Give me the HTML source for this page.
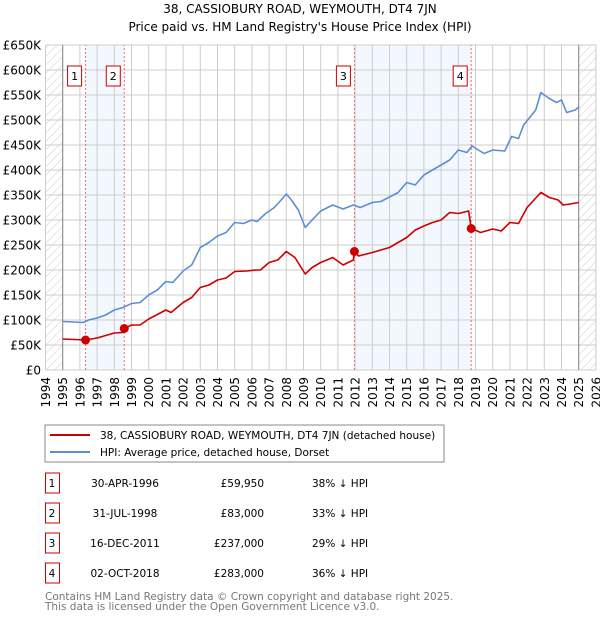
<!DOCTYPE html>
<html><head><meta charset="utf-8"><style>
body{margin:0;background:#fff;width:600px;height:620px;overflow:hidden;font-family:"DejaVu Sans","Liberation Sans",sans-serif;}
svg text{font-family:"DejaVu Sans","Liberation Sans",sans-serif;}
</style></head><body>
<svg id="c" width="600" height="620" xmlns="http://www.w3.org/2000/svg">
<defs><pattern id="hatch" width="6" height="6" patternUnits="userSpaceOnUse" patternTransform="rotate(45)"><line x1="0" y1="0" x2="0" y2="6" stroke="#ccc" stroke-width="1"/></pattern></defs>
<text x="300" y="13" text-anchor="middle" font-size="12" fill="#000">38, CASSIOBURY ROAD, WEYMOUTH, DT4 7JN</text>
<text x="300" y="31" text-anchor="middle" font-size="12" fill="#000">Price paid vs. HM Land Registry's House Price Index (HPI)</text>
<g id="plot"></g>
<rect x="45" y="425" width="399" height="37" fill="#fff" stroke="#888"/>
<line x1="50" y1="435" x2="90" y2="435" stroke="#cc0000" stroke-width="2"/>
<text x="100" y="439" font-size="10.5">38, CASSIOBURY ROAD, WEYMOUTH, DT4 7JN (detached house)</text>
<line x1="50" y1="452" x2="90" y2="452" stroke="#5b8fd4" stroke-width="2"/>
<text x="100" y="456" font-size="10.5">HPI: Average price, detached house, Dorset</text>
<g id="table" font-size="10.5"></g>
<text x="45" y="600" font-size="10.5" fill="#777">Contains HM Land Registry data © Crown copyright and database right 2025.</text>
<text x="45" y="610" font-size="10.5" fill="#777">This data is licensed under the Open Government Licence v3.0.</text>
</svg>
<script>
const hpiYears=[1995,1996.2,1996.5,1997,1997.5,1998,1998.5,1999,1999.5,2000,2000.5,2001,2001.4,2002,2002.5,2003,2003.5,2004,2004.5,2005,2005.5,2006,2006.3,2006.8,2007.3,2007.7,2008,2008.3,2008.7,2009.1,2009.5,2010,2010.7,2011.3,2011.9,2012.3,2013,2013.5,2014.5,2015,2015.5,2016,2016.5,2017,2017.5,2018,2018.5,2018.8,2019.5,2020,2020.7,2021.1,2021.5,2021.8,2022.5,2022.8,2023.2,2023.7,2024,2024.3,2024.8,2025];
const hpiValues=[97,95,100,104,110,120,125,133,135,150,160,177,175,198,210,245,255,268,275,295,293,300,297,313,325,340,352,340,320,285,300,318,330,322,330,325,335,337,355,375,370,390,400,410,420,440,435,448,433,440,438,467,463,490,520,555,545,535,540,515,520,526];
const propYears=[1995,1996.33,1997,1998,1998.5,1998.58,1999,1999.5,2000,2001,2001.3,2002,2002.5,2003,2003.5,2004,2004.5,2005,2005.7,2006.2,2006.5,2007,2007.5,2008,2008.5,2009.1,2009.5,2010,2010.7,2011.3,2011.9,2011.96,2012.2,2013,2014,2014.5,2015,2015.5,2016,2016.5,2017,2017.5,2018,2018.6,2018.75,2019.3,2020,2020.5,2021,2021.5,2022,2022.8,2023.3,2023.8,2024.1,2024.5,2025];
const propValues=[62,60,64,74,75,83,90,90,102,120,115,135,145,165,170,180,184,197,198,200,200,215,220,237,225,192,205,215,225,210,220,237,228,235,245,255,265,280,288,295,300,315,313,318,283,275,282,278,295,293,325,355,345,340,330,332,335];
const saleYears=[1996.33,1998.58,2011.96,2018.75];
const saleValues=[59.95,83,237,283];
const saleLabels=["1","2","3","4"];
const saleDates=["30-APR-1996","31-JUL-1998","16-DEC-2011","02-OCT-2018"];
const salePrices=["£59,950","£83,000","£237,000","£283,000"];
const saleDiffs=["38% ↓ HPI","33% ↓ HPI","29% ↓ HPI","36% ↓ HPI"];
const yTicks=[0,50,100,150,200,250,300,350,400,450,500,550,600,650];
const xTicks=[1994,1995,1996,1997,1998,1999,2000,2001,2002,2003,2004,2005,2006,2007,2008,2009,2010,2011,2012,2013,2014,2015,2016,2017,2018,2019,2020,2021,2022,2023,2024,2025,2026];
const NS="http://www.w3.org/2000/svg";
const X=y=>45.5+(y-1994)*17.2;
const Y=v=>370-v*0.5;
const g=document.getElementById('plot');
function mk(tag,attrs,parent){const e=document.createElementNS(NS,tag);for(const k in attrs)e.setAttribute(k,attrs[k]);(parent||g).appendChild(e);return e;}
// shaded spans
let r=mk('rect',{x:X(1994),y:Y(650),width:X(1995)-X(1994),height:Y(0)-Y(650),fill:'url(#hatch)'});


r=mk('rect',{x:X(2025),y:Y(650),width:X(2026)-X(2025),height:Y(0)-Y(650),fill:'url(#hatch)'});


r=mk('rect',{x:X(saleYears[0]),y:Y(650),width:X(saleYears[1])-X(saleYears[0]),height:Y(0)-Y(650),fill:'#eef3fd',opacity:0.7});


r=mk('rect',{x:X(saleYears[2]),y:Y(650),width:X(saleYears[3])-X(saleYears[2]),height:Y(0)-Y(650),fill:'#eef3fd',opacity:0.7});


// grid
yTicks.forEach(v=>{
 const l=mk('line',{x1:X(1994),x2:X(2026),y1:Y(v),y2:Y(v),stroke:'#ccc'});
 
 
 const t=mk('text',{x:41,y:Y(v)+4.5,'text-anchor':'end','font-size':12});
 
 
 t.textContent=v===0?'£0':'£'+v+'K';
});
xTicks.forEach(yr=>{
 const l=mk('line',{x1:X(yr),x2:X(yr),y1:Y(0),y2:Y(650),stroke:'#ccc'});
 
 
 const t=mk('text',{x:0,y:0,'text-anchor':'end','font-size':12,transform:`translate(${X(yr)+4.5},377) rotate(-90)`});
 
 
 t.textContent=yr;
});
[1995,2025].forEach(yr=>{const l=mk('line',{x1:X(yr),x2:X(yr),y1:Y(0),y2:Y(650),stroke:'#888'});
 
 });
// sale markers lines
saleYears.forEach((yr,i)=>{
 const l=mk('line',{x1:X(yr),x2:X(yr),y1:Y(0),y2:Y(650),stroke:'#f66','stroke-dasharray':'2,2'});
 
 
 const b=mk('rect',{x:X(yr)-18,y:66,width:14,height:20,fill:'#fff',stroke:'#c00'});
 
 
 const t=mk('text',{x:X(yr)-11,y:80,'text-anchor':'middle','font-size':11});
 
 
 t.textContent=saleLabels[i];
});
function line(xs,vs,col,name){
 const p=mk('polyline',{points:xs.map((x,i)=>X(x)+','+Y(vs[i])).join(' '),fill:'none',stroke:col,'stroke-width':1.6,'stroke-linejoin':'round'});
 
 
}
line(hpiYears,hpiValues,'#5b8fd4','hpi-line');
line(propYears,propValues,'#cc0000','property-line');
saleYears.forEach((yr,i)=>{
 const c=mk('circle',{cx:X(yr),cy:Y(saleValues[i]),r:4.5,fill:'#cc0000'});
 
 
});
// table
const tb=document.getElementById('table');
saleLabels.forEach((lab,i)=>{
 const cy=483+i*30;
 const b=mk('rect',{x:45.5,y:cy-10,width:14,height:20,fill:'#fff',stroke:'#c00'},tb);
 
 
 const cells=[[52,'middle',lab],[125,'middle',saleDates[i]],[264,'end',salePrices[i]],[312,'start',saleDiffs[i]]];
 cells.forEach((c,j)=>{
  const t=mk('text',{x:c[0],y:cy+4,'text-anchor':c[1]},tb);
  
  
  t.textContent=c[2];
 });
});
</script>
</body></html>
